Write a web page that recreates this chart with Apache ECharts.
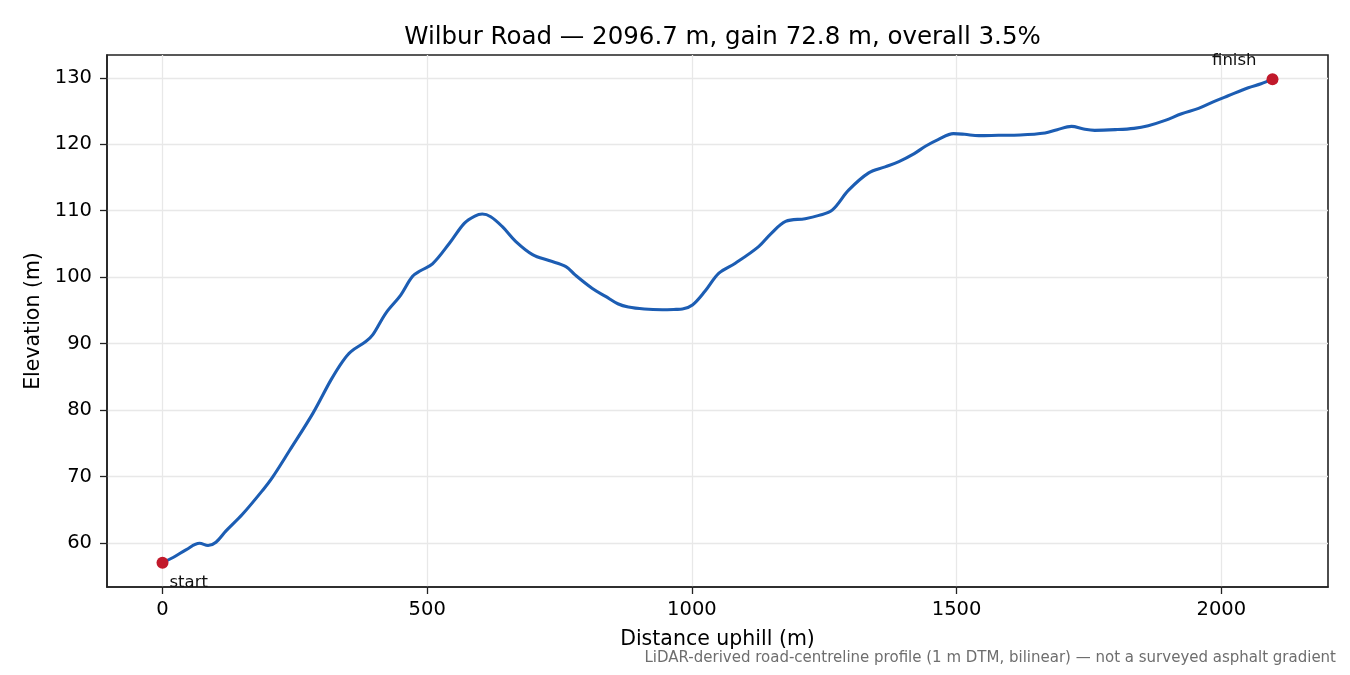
<!DOCTYPE html>
<html>
<head>
<meta charset="utf-8">
<script src="https://cdn.jsdelivr.net/npm/echarts@6/dist/echarts.min.js"></script>
<style>
  html, body { margin: 0; padding: 0; background: #fff; }
  #chart { width: 1350px; height: 675px; }
</style>
</head>
<body>
<div id="chart"></div>
<script>
// profile (distance uphill in m, elevation in m)
const distance = [
    0, 20, 45, 70, 86, 101, 120, 151, 189, 208, 240, 284, 318, 340, 356, 384, 397,
    422, 450, 472, 488, 510, 542, 570, 590, 604, 620, 642, 667, 699, 730, 762, 780,
    812, 837, 860, 880, 910, 944, 970, 982, 1001, 1025, 1051, 1082, 1126, 1150, 1177,
    1214, 1240, 1265, 1296, 1334, 1365, 1391, 1420, 1441, 1465, 1494, 1515, 1542, 1579,
    1620, 1667, 1690, 1717, 1740, 1761, 1800, 1835, 1862, 1894, 1925, 1957, 1988, 2013,
    2051, 2075, 2096.7
];
const elevation = [
    57.0, 57.8, 59.0, 59.95, 59.6, 60.1, 61.8, 64.3, 67.9, 69.9, 73.9, 79.5, 84.5, 87.3, 88.8, 90.3, 91.3,
    94.6, 97.3, 100.1, 101.0, 102.0, 105.1, 108.1, 109.2, 109.5, 109.1, 107.6, 105.4, 103.4, 102.5, 101.6, 100.3,
    98.3, 97.1, 96.0, 95.5, 95.2, 95.1, 95.15, 95.2, 95.8, 97.9, 100.6, 102.1, 104.6, 106.6, 108.4,
    108.8, 109.3, 110.1, 113.1, 115.7, 116.6, 117.4, 118.6, 119.7, 120.7, 121.6, 121.5, 121.3, 121.35,
    121.4, 121.7, 122.2, 122.7, 122.3, 122.1, 122.2, 122.4, 122.8, 123.6, 124.6, 125.4, 126.5, 127.3,
    128.5, 129.1, 129.8
];
const xTicks = [0, 500, 1000, 1500, 2000];
const yTicks = [60, 70, 80, 90, 100, 110, 120, 130];

const titleText = 'Wilbur Road \u2014 2096.7 m, gain 72.8 m, overall 3.5%';
const noteText = 'LiDAR-derived road-centreline profile (1 m DTM, bilinear) \u2014 not a surveyed asphalt gradient';

const profile = distance.map((d, i) => [d, elevation[i]]);
const last = profile.length - 1;

// 5% padding like the original plot
const xPad = (distance[last] - distance[0]) * 0.05;
const yMin = Math.min(...elevation), yMax = Math.max(...elevation);
const yPad = (yMax - yMin) * 0.05;

const FONT = 'DejaVu Sans';
const frame = '#222';
const gridCol = '#e8e8e8';

let myChart = echarts.init(document.getElementById('chart'), null, { renderer: 'canvas' });

let option = {
    animation: false,
    backgroundColor: '#fff',
    textStyle: { fontFamily: FONT },
    title: {
        text: titleText,
        left: 717.5,
        textAlign: 'center',
        top: 20,
        textStyle: { fontFamily: FONT, fontSize: 24.5, fontWeight: 'normal', color: '#000' }
    },
    grid: {
        left: 107, right: 22, top: 55, bottom: 88,
        show: true, borderColor: frame, borderWidth: 1.6, backgroundColor: 'transparent'
    },
    xAxis: {
        type: 'value',
        min: distance[0] - xPad,
        max: distance[last] + xPad,
        name: 'Distance uphill (m)',
        nameLocation: 'middle',
        nameGap: 42,
        nameTextStyle: { fontFamily: FONT, fontSize: 20.5, color: '#000' },
        axisLine: { show: true, onZero: false, lineStyle: { color: frame, width: 1.6 } },
        axisTick: { show: true, length: 7, customValues: xTicks, lineStyle: { color: frame, width: 1.3 } },
        axisLabel: {
            customValues: xTicks, margin: 13, fontFamily: FONT, fontSize: 19.5, color: '#000',
            formatter: v => String(v)
        },
        splitLine: { show: true, lineStyle: { color: gridCol, width: 1.3 } }
    },
    yAxis: {
        type: 'value',
        min: yMin - yPad,
        max: yMax + yPad,
        name: 'Elevation (m)',
        nameLocation: 'middle',
        nameGap: 62,
        nameTextStyle: { fontFamily: FONT, fontSize: 20.5, color: '#000' },
        axisLine: { show: true, onZero: false, lineStyle: { color: frame, width: 1.6 } },
        axisTick: { show: true, length: 7, customValues: yTicks, lineStyle: { color: frame, width: 1.3 } },
        axisLabel: {
            customValues: yTicks, margin: 15, fontFamily: FONT, fontSize: 19.5, color: '#000',
            formatter: v => String(v)
        },
        splitLine: { show: true, lineStyle: { color: gridCol, width: 1.3 } }
    },
    series: [
        {
            type: 'line',
            data: profile,
            smooth: 0.35,
            showSymbol: false,
            lineStyle: { color: '#1c5db3', width: 3.1 },
            z: 3
        },
        {
            type: 'scatter',
            data: [profile[0]],
            symbolSize: 12,
            itemStyle: { color: '#c1192b', opacity: 1 },
            label: {
                show: true, formatter: 'start', position: [13, 26],
                align: 'left', verticalAlign: 'middle',
                fontFamily: FONT, fontSize: 16.5, color: '#111', opacity: 1
            },
            z: 4
        },
        {
            type: 'scatter',
            data: [profile[last]],
            symbolSize: 12,
            itemStyle: { color: '#c1192b', opacity: 1 },
            label: {
                show: true, formatter: 'finish', position: [-10, -12],
                align: 'right', verticalAlign: 'middle',
                fontFamily: FONT, fontSize: 16.5, color: '#111', opacity: 1
            },
            z: 4
        }
    ],
    graphic: [
        {
            type: 'text',
            right: 14,
            top: 651,
            style: { text: noteText, fontFamily: FONT, fontSize: 15, fill: '#6e6e6e' }
        }
    ]
};

myChart.setOption(option);
</script>
</body>
</html>
